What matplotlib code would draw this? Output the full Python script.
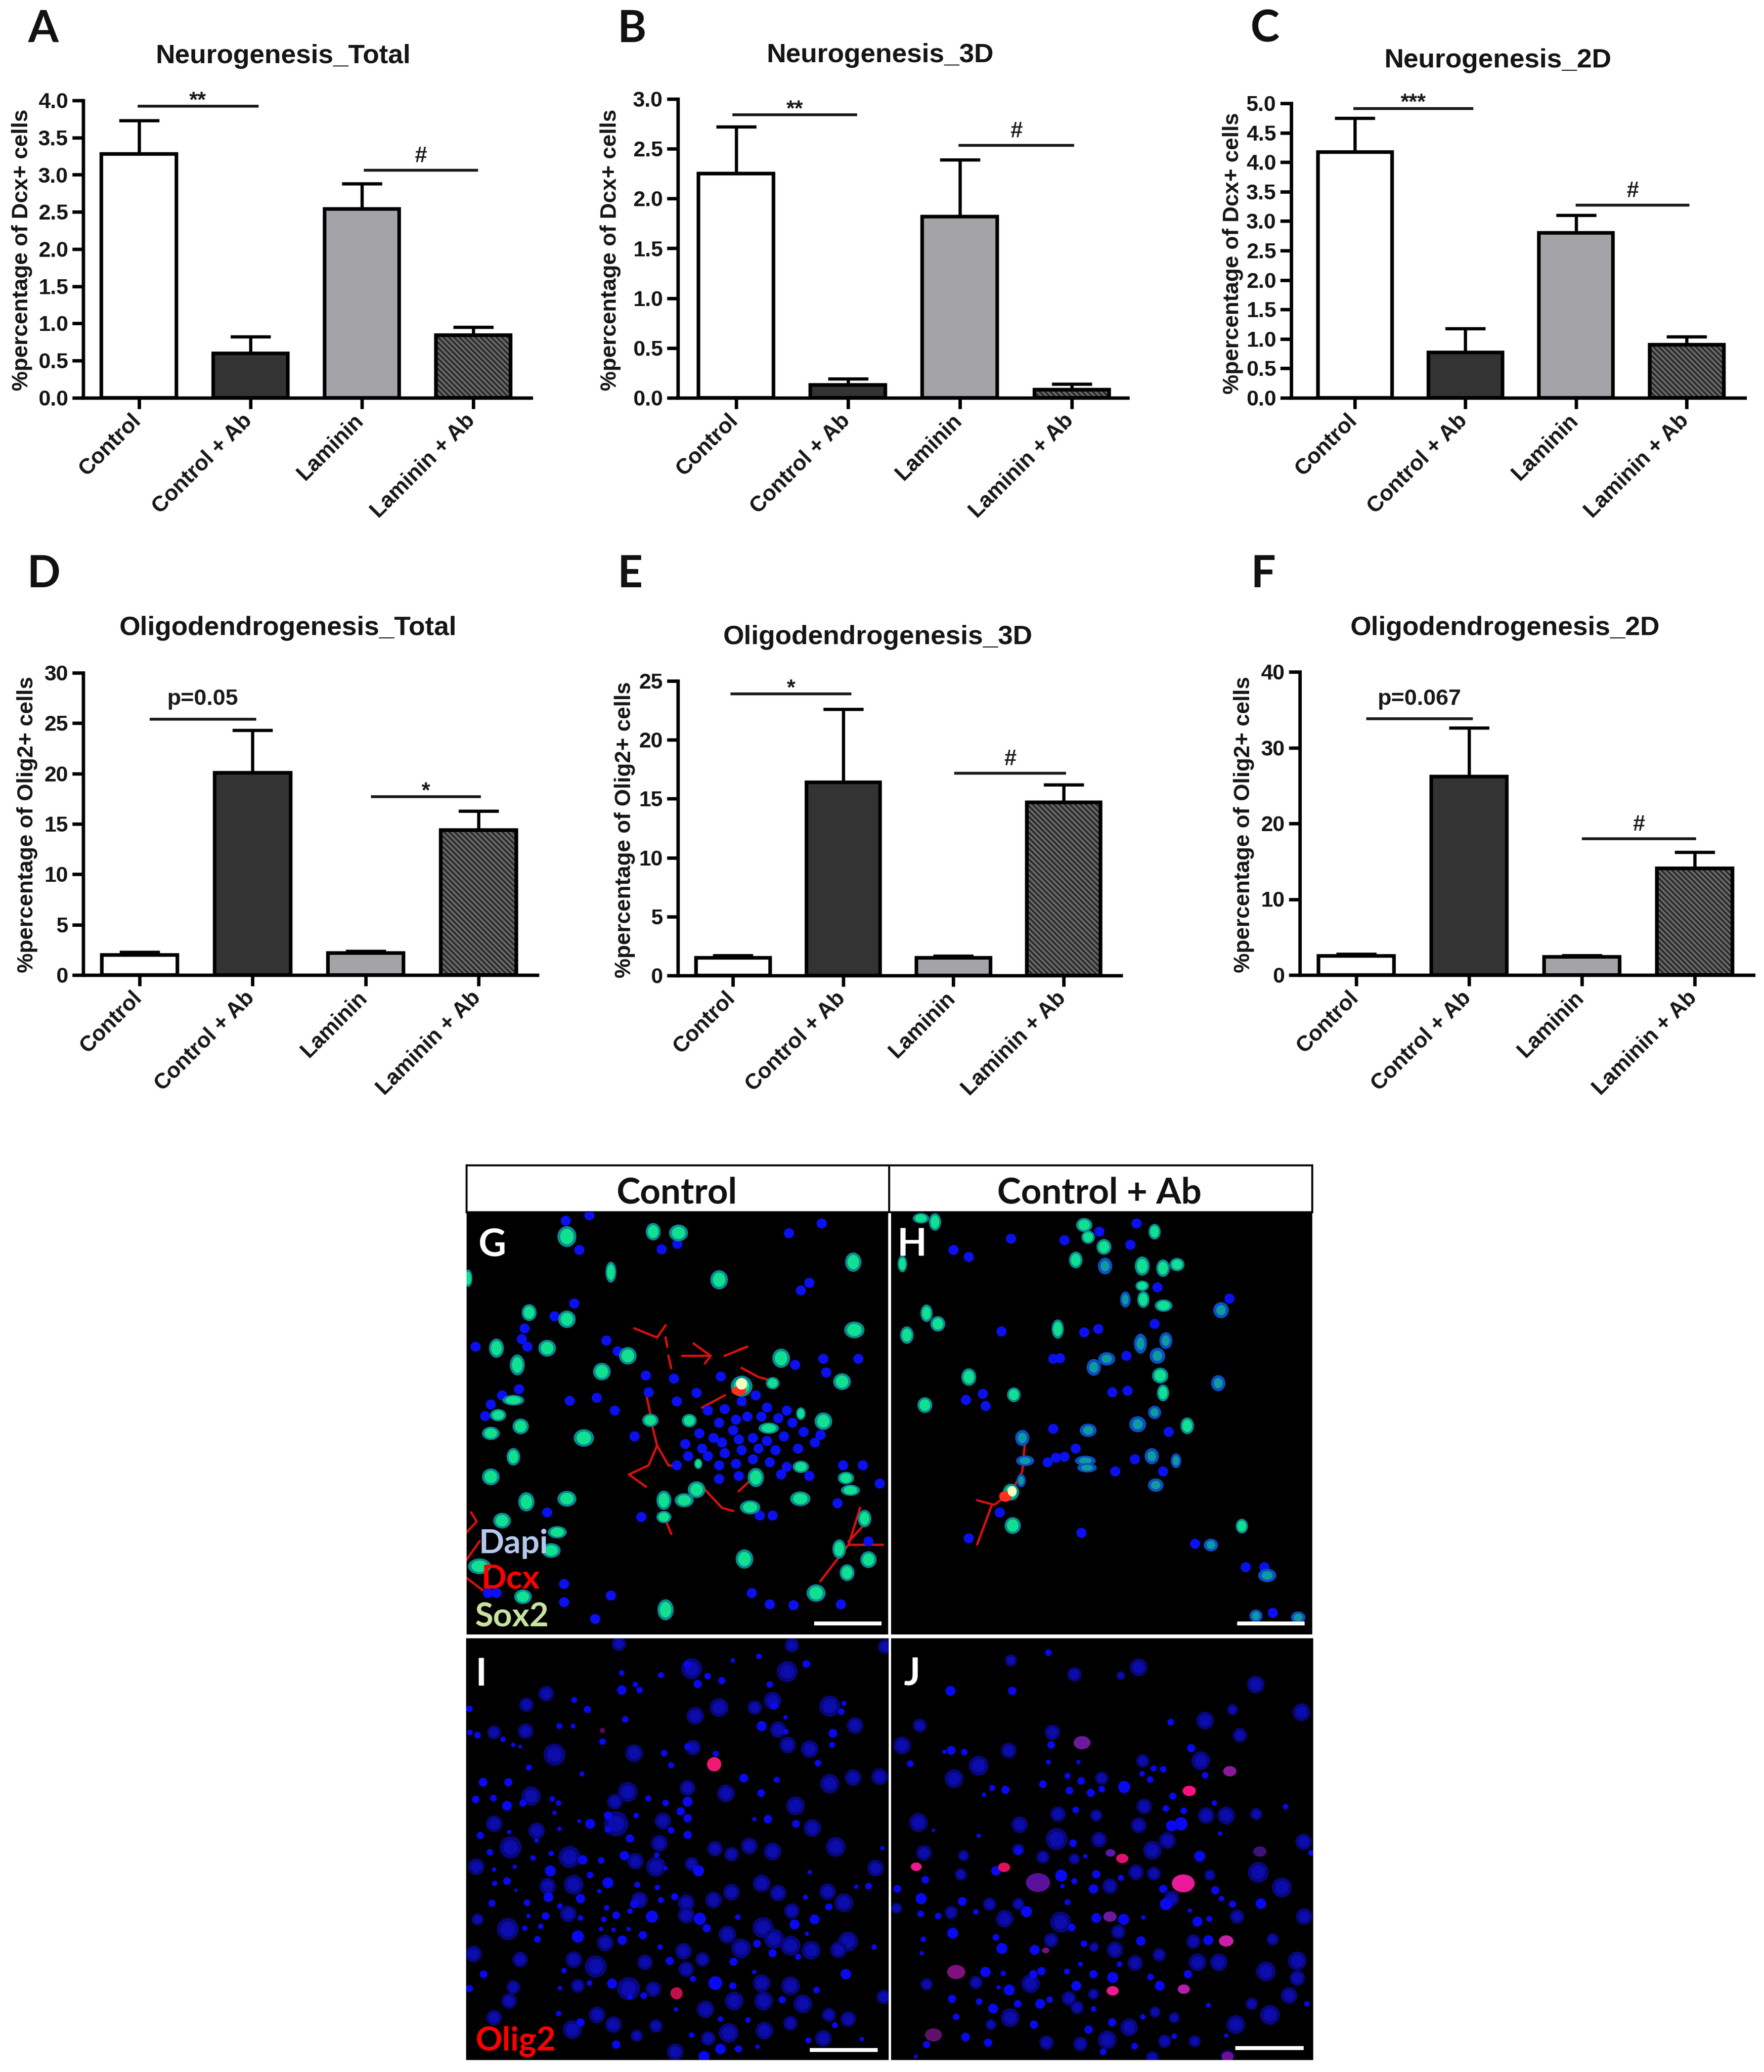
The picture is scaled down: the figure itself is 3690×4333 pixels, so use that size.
import matplotlib
matplotlib.use("Agg")
import matplotlib.pyplot as plt
from matplotlib.patches import Ellipse
from matplotlib.transforms import ScaledTranslation

W, H = 3691, 4333

# ---- bar chart data
groups = ['Control', 'Control + Ab', 'Laminin', 'Laminin + Ab']

a_vals = [3.28, 0.60, 2.54, 0.84]
a_tops = [3.73, 0.82, 2.88, 0.95]
b_vals = [2.25, 0.13, 1.82, 0.08]
b_tops = [2.72, 0.19, 2.39, 0.14]
c_vals = [4.17, 0.77, 2.80, 0.90]
c_tops = [4.75, 1.18, 3.10, 1.04]
d_vals = [2.0, 20.1, 2.2, 14.4]
d_tops = [2.3, 24.3, 2.35, 16.3]
e_vals = [1.5, 16.4, 1.5, 14.7]
e_tops = [1.7, 22.6, 1.65, 16.2]
f_vals = [2.5, 26.2, 2.4, 14.1]
f_tops = [2.8, 32.6, 2.6, 16.2]

a_ticks = ['0.0', '0.5', '1.0', '1.5', '2.0', '2.5', '3.0', '3.5', '4.0']
b_ticks = ['0.0', '0.5', '1.0', '1.5', '2.0', '2.5', '3.0']
c_ticks = ['0.0', '0.5', '1.0', '1.5', '2.0', '2.5', '3.0', '3.5', '4.0', '4.5', '5.0']
d_ticks = ['0', '5', '10', '15', '20', '25', '30']
e_ticks = ['0', '5', '10', '15', '20', '25']
f_ticks = ['0', '10', '20', '30', '40']

bar_colors = ['white', '#333333', '#a3a3a8', '#6a6a6a']

# ---- microscopy nuclei, x, y, width, height in zoomed crop coordinates
g_green = [(200,288,28,60),(353,272,22,50),(398,276,28,48),(708,372,24,55),(278,405,16,60),(470,430,26,55),(25,425,12,50),
    (133,538,22,48),(200,560,26,50),(710,595,30,48),(75,655,22,55),(165,655,26,48),(112,710,22,60),(308,680,26,50),
    (262,732,26,50),(580,688,26,55),(688,765,26,48),(510,780,32,60),(565,770,20,35),(105,826,32,30),(78,875,24,35),
    (118,912,24,45),(65,935,26,38),(230,950,30,50),(348,892,24,38),(417,893,22,38),(655,895,26,50),(615,870,14,36),
    (558,918,30,32),(105,1012,20,50),(65,1078,26,48),(433,1035,12,30),(615,1045,24,35),(535,1080,24,55),(695,1082,24,36),
    (703,1122,28,32),(430,1120,26,48),(372,1155,22,55),(408,1155,28,40),(525,1178,30,40),(614,1150,30,42),(128,1160,24,55),
    (200,1150,28,45),(372,1210,22,35),(85,1222,26,45),(183,1260,28,35),(172,1320,28,42),(45,1372,34,45),(515,1348,26,55),
    (683,1315,20,55),(735,1350,24,48),(697,1393,22,48),(642,1460,28,50),(122,1472,26,42),(375,1515,24,60),(728,1215,20,50)]
g_blue = [(198,236),(240,218),(222,332),(368,330),(396,312),(594,277),(652,245),(630,440),(615,465),(213,508),(178,550),
    (125,590),(120,625),(38,650),(130,650),(270,630),(290,665),(340,745),(390,755),(473,748),(430,802),(395,830),(345,800),
    (253,818),(205,828),(285,860),(85,810),(65,840),(55,878),(115,790),(605,710),(655,690),(717,690),(660,735),(450,860),
    (480,855),(510,830),(535,810),(555,850),(590,860),(500,890),(470,900),(520,880),(545,880),(575,885),(600,900),(495,925),
    (460,950),(435,935),(410,970),(440,985),(475,965),(505,955),(530,950),(555,960),(585,945),(620,930),(650,940),(640,965),
    (610,985),(570,990),(540,985),(510,990),(480,1000),(450,1010),(415,1010),(395,1040),(470,1040),(500,1035),(530,1020),
    (560,1030),(590,1045),(505,1075),(470,1085),(580,1070),(630,1075),(320,945),(332,1210),(165,1195),(542,1205),(565,1205),
    (680,1165),(755,1100),(725,1040),(690,1040),(195,1430),(278,1468),(528,1460),(560,1497),(602,1500),(686,1497),(195,1490),
    (250,1545),(735,1290),(60,1460),(75,1460)]
g_red = [[(320,590),(360,620),(375,580)],[(375,620),(378,650)],[(425,640),(455,680),(405,680)],[(455,680),(445,705)],
    [(505,660),(520,650),(480,680)],[(380,680),(385,720)],[(510,720),(540,750),(570,765)],[(340,800),(350,890)],
    [(350,900),(360,975),(345,1040),(310,1070),(340,1110)],[(360,975),(380,1040),(400,1045)],[(480,810),(440,850)],
    [(440,1110),(475,1180),(495,1190)],[(525,1090),(505,1125)],[(375,1220),(385,1265)],[(720,1180),(700,1300),(650,1420)],
    [(700,1300),(760,1300)],[(700,1290),(725,1240)],[(30,1195),(40,1225),(22,1260)],[(22,1350),(45,1290)],[(22,1410),(50,1450)]]

h_green = [(825,228,24,30),(850,240,18,50),(1115,250,24,40),(1122,290,20,38),(1150,322,22,45),(1240,272,18,45),(1100,365,20,48),
    (1218,385,22,55),(1255,392,20,50),(1280,380,22,38),(1218,450,20,30),(1220,495,18,48),(1256,515,26,35),
    (835,540,18,50),(855,575,22,44),(800,612,20,50),(792,378,14,48),(1068,592,18,55),
    (1250,745,24,45),(1255,802,18,48),(910,750,22,50),(990,808,20,42),(832,842,22,45),(1298,910,20,48),
    (985,1128,24,48),(988,1238,24,48),(1395,1240,18,42)]
h_teal = [(1152,385,22,50),(1188,495,16,48),(1358,530,24,48),(1215,640,20,60),(1260,630,20,50),(1245,680,24,48),(1155,690,26,40),
    (1132,718,22,50),(1353,770,22,48),(1240,866,20,40),(1210,905,26,48),(1122,925,26,40),(1005,950,22,48),(1010,1025,28,32),
    (1117,1025,32,30),(1120,1048,30,28),(1235,1010,22,48),(1278,1025,16,44),(1003,1090,14,40),(1242,1105,24,40),(1340,1302,22,38),
    (1440,1402,28,40),(1420,1535,20,38),(1495,1540,22,36)]
h_blue = [(985,295),(883,332),(910,355),(1080,300),(1142,272),(1197,315),(1208,245),(1373,492),(1245,455),(1240,575),(1115,603),
    (1140,592),(968,600),(1060,690),(1072,688),(1190,680),(1165,800),(1192,795),(1060,920),(1050,1030),(1065,1015),(1080,1012),
    (1100,985),(1170,1060),(1205,1020),(1255,1060),(1265,930),(965,1195),(910,1280),(1110,1262),(1312,1298),(1402,1375),
    (1435,1375),(1450,1525),(935,805),(905,825),(940,845)]
h_red = [[(925,1155),(955,1170),(985,1130),(1005,1060),(1010,960)],[(950,1175),(925,1300)]]

# x, y, radius
i_dim = [(830,155,38),(1178,165,38),(930,295,34),(843,325,32),(1125,270,32),(1333,290,38),(1425,360,30),(1145,375,30),(110,385,25),
    (225,380,28),(620,460,32),(330,465,40),(1180,430,30),(1260,445,32),(835,440,28),(955,605,32),(1333,570,35),(1418,548,30),
    (1515,545,30),(597,600,36),(815,585,28),(245,615,35),(550,635,28),(1208,650,34),(110,715,30),(555,715,45),(1270,730,32),
    (725,705,30),(265,740,30),(170,800,40),(712,785,30),(1355,798,36),(1125,815,32),(975,825,26),(915,805,28),(1040,795,30),
    (385,835,40),(625,850,30),(700,870,36),(1500,875,30),(830,860,25),(1085,930,32),(400,935,36),(305,940,30),(1145,965,30),
    (975,962,30),(1325,960,30),(1385,1000,34),(640,990,30),(810,1000,30),(910,990,30),(810,1045,30),(1195,1030,28),(380,1040,30),
    (160,1095,40),(1090,1090,38),(1130,1130,36),(960,1115,32),(515,1145,30),(1190,1155,36),(1010,1165,36),(1265,1172,34),
    (1400,1140,36),(1365,1170,30),(800,1175,30),(35,1185,30),(205,1205,28),(400,1205,30),(870,1205,26),(480,1230,40),(660,1215,28),
    (810,1240,28),(1085,1290,32),(600,1310,42),(690,1312,28),(180,1305,25),(415,1300,25),(1190,1300,34),(985,1355,34),(1092,1355,34),
    (1235,1365,34),(880,1385,32),(165,1355,28),(110,1415,28),(485,1405,30),(395,1458,34),(545,1440,30),(1190,1435,26),(1095,1462,32),
    (965,1470,36),(1310,1490,30),(1400,1420,28),(1330,1405,25),(890,1490,26),(770,1538,30),(630,1480,22),(700,1445,24),(1530,1340,26),
    (1535,75,26),(1195,70,26),(565,65,26),(300,245,28),(228,285,26),(50,1060,22),(45,870,30),(1060,295,26)]
i_bright = [(815,140,14),(888,182,12),(852,210,15),(940,198,13),(575,232,17),(640,232,12),(625,212,10),(718,178,11),(575,170,10),
    (1130,288,15),(1115,212,12),(980,125,8),(1075,110,10),(1248,138,14),(1085,362,18),(1345,388,16),(1342,430,11),(1173,382,10),
    (1290,496,12),(1375,310,12),(1385,280,9),(1172,330,8),(402,268,11),(450,302,13),(588,338,12),(348,362,11),(398,362,9),(20,300,12),
    (50,395,12),(22,385,10),(143,410,10),(180,430,8),(205,436,7),(505,418,12),(730,460,12),(815,436,12),(755,503,11),(918,462,11),
    (1020,550,16),(1140,556,11),(1083,604,14),(1108,698,15),(1210,715,14),(1058,698,8),(672,623,11),(735,640,12),(815,635,18),
    (790,670,15),(815,695,15),(755,738,12),(815,755,15),(628,685,10),(460,715,18),(525,685,15),(525,735,12),(605,768,15),(348,733,8),
    (420,705,7),(430,535,9),(237,512,11),(162,565,15),(70,565,16),(43,627,14),(108,622,12),(157,650,18),(215,640,13),(322,625,10),
    (345,640,10),(330,675,8),(60,757,13),(165,745,8),(265,775,9),(95,818,12),(252,838,10),(318,822,10),(433,845,17),(585,830,17),
    (703,828,10),(735,875,8),(855,885,20),(500,847,12),(315,885,20),(110,880,8),(185,870,8),(460,900,12),(525,928,20),(632,935,11),
    (705,945,10),(157,922,14),(112,930,10),(190,955,6),(230,1000,12),(308,980,18),(425,985,17),(102,1002,13),(350,1012,10),(493,958,8),
    (520,1018,10),(620,1005,15),(718,990,11),(768,978,13),(605,1030,10),(685,1050,22),(555,1045,14),(510,1060,10),(425,1055,10),
    (298,1048,14),(235,1048,8),(860,1058,22),(885,1092,15),(998,1052,10),(1278,1060,18),(1205,1078,18),(1250,1112,8),(415,1122,22),
    (268,1132,12),(222,1092,10),(280,1085,10),(500,1095,8),(545,1098,8),(600,1095,8),(652,1117,15),(577,1135,17),(715,1160,10),
    (1068,1148,14),(1125,1182,15),(1218,1195,11),(750,1210,15),(983,1213,15),(72,1258,14),(20,1310,13),(365,1245,10),(1392,1258,19),
    (1058,1250,8),(835,1275,11),(916,1290,25),(540,1292,18),(980,1300,13),(1285,1315,12),(1160,1350,13),(655,1335,12),(605,1340,10),
    (458,1290,10),(350,1308,8),(345,1400,10),(425,1432,15),(1035,1423,10),(935,1420,10),(1352,1442,11),(773,1385,8),(555,1512,15),
    (1255,1497,11),(1450,1492,8),(830,1478,10),(935,1528,19),(875,1555,20),(1000,1528,13),(1070,1520,8),(1495,1160,10),(1475,940,12),
    (1430,942,8),(1260,890,8),(1330,1015,13),(1525,803,8),(1245,980,9)]
i_pink = [(912,500,26,'#f01870'),(775,1327,22,'#c01050'),(505,378,10,'#500a50')]

j_dim = [(925,150,32),(458,125,22),(690,175,26),(860,180,16),(1353,212,32),(1520,312,32),(1168,342,32),(1295,395,26),(1268,303,20),
    (610,385,28),(60,432,32),(450,450,28),(125,360,25),(340,505,36),(250,552,34),(940,488,24),(1152,487,34),(790,550,24),(120,710,34),
    (490,718,30),(630,680,28),(945,652,28),(770,685,22),(1172,685,30),(1245,685,32),(1355,680,22),(925,720,28),(140,820,28),(285,830,20),
    (275,898,22),(485,808,22),(575,835,24),(690,842,20),(780,772,28),(625,770,40),(1030,775,30),(975,810,34),(1528,780,30),(1148,832,22),
    (915,890,28),(820,940,28),(980,895,25),(1362,890,38),(1448,945,36),(1185,900,20),(1045,985,28),(380,1005,24),(485,1005,22),(40,1020,20),
    (240,1035,24),(435,1058,32),(640,1070,38),(1285,1050,26),(1530,1050,30),(850,1105,26),(605,1135,26),(762,1160,18),(838,1170,30),
    (1000,1188,24),(1125,1140,26),(912,1218,28),(1140,1215,32),(1218,1215,32),(1415,1132,22),(1505,1210,34),(1390,1248,36),(1505,1272,28),
    (150,1295,22),(330,1288,24),(530,1292,34),(670,1345,26),(700,1378,24),(760,1330,20),(1475,1335,30),(1338,1365,22),(1405,1405,36),
    (455,1415,34),(385,1440,20),(1055,1415,20),(985,1395,20),(890,1450,32),(810,1495,34),(1280,1440,34),(1130,1500,22),(588,1505,26),
    (712,1510,26),(1020,1500,24),(975,1560,24),(1250,1555,24)]
j_bright = [(237,235,18),(463,235,15),(595,97,12),(240,450,16),(288,456,12),(215,455,8),(90,498,12),(1042,348,12),(1117,442,15),(605,430,14),
    (595,492,9),(705,492,8),(665,542,11),(575,572,14),(715,560,14),(672,595,14),(390,585,11),(438,592,15),(360,610,8),(750,603,15),(790,590,12),
    (872,582,22),(938,534,10),(980,515,11),(1015,518,12),(967,555,12),(1168,540,12),(1050,615,13),(1202,640,10),(1025,660,12),(1090,668,12),
    (1080,715,24),(1045,722,20),(1222,750,8),(1462,653,10),(695,665,12),(340,758,8),(175,738,6),(685,785,14),(730,832,8),(485,812,14),(1148,832,18),
    (642,902,22),(690,922,11),(770,897,15),(860,910,11),(760,950,17),(403,885,17),(145,917,14),(43,950,14),(130,985,20),(280,995,16),(647,940,8),
    (1015,950,15),(1025,1005,22),(665,998,11),(1268,1005,13),(1372,1003,19),(1228,985,10),(1205,955,15),(1112,1028,8),(515,1032,20),(330,1033,10),
    (128,1040,12),(192,1048,12),(770,1055,18),(870,1060,20),(942,1053,8),(1140,1068,18),(1183,1058,11),(680,1090,14),(245,1110,20),(403,1125,12),
    (138,1132,10),(425,1165,20),(545,1170,18),(725,1148,12),(933,1138,17),(1180,1135,18),(132,1182,8),(855,1222,10),(712,1222,9),(365,1250,19),
    (430,1255,10),(540,1258,15),(570,1247,15),(663,1248,11),(760,1258,15),(830,1270,20),(968,1268,12),(1105,1258,15),(413,1305,8),(452,1315,20),
    (697,1300,18),(1002,1300,18),(243,1347,15),(342,1357,12),(393,1382,18),(483,1365,14),(565,1365,18),(600,1350,12),(760,1383,10),(828,1432,15),
    (940,1412,10),(542,1440,15),(742,1458,15),(292,1485,16),(375,1505,15),(150,1512,13),(795,1538,12),(910,1518,12),(1055,1482,10),(1245,1480,8),
    (1180,1370,9),(258,1412,12),(1540,1365,10),(1555,820,10),(110,1555,7)]
j_pink = [(718,422,28,'#6a1a9a'),(1258,525,22,'#8a1a9a'),(1110,596,22,'#ff1080'),(112,870,18,'#f01890'),(433,872,20,'#e01060'),(865,840,20,'#e01070'),
    (822,820,16,'#5a1ab0'),(557,927,40,'#5a109a'),(1088,930,38,'#e81a9a'),(820,1050,22,'#6a1a9a'),(1245,1138,24,'#c820a8'),(585,1172,12,'#7a1080'),
    (258,1250,30,'#801080'),(1090,1312,20,'#b020a8'),(830,1318,20,'#f01890'),(175,1477,28,'#60106a'),(1250,1555,20,'#701090'),(1368,815,22,'#40107a')]

fig = plt.figure(figsize=(W / 100, H / 100), dpi=100, facecolor='white')
plt.rcParams['hatch.linewidth'] = 2.8
plt.rcParams['font.family'] = ['Liberation Sans', 'DejaVu Sans']


def px_axes(left, right, top, bottom, **kw):
    return fig.add_axes([left / W, 1 - bottom / H, (right - left) / W, (bottom - top) / H], **kw)


def px_text(x, y, s, **kw):
    kw.setdefault('ha', 'center')
    kw.setdefault('va', 'center')
    fig.text(x / W, 1 - y / H, s, **kw)


def bar_panel(box, xlim, vals, tops, ticks, step, title, title_xy, ylabel, ylabel_xy, sigs):
    ax = px_axes(*box)
    x = range(4)
    bars = ax.bar(x, vals, width=0.67, color=bar_colors, edgecolor='black', linewidth=5.4, zorder=3)
    bars[3].set_hatch('\\\\\\')
    bars[3].set_edgecolor('#2a2a2a')
    ax.bar([3], [vals[3]], width=0.67, fill=False, edgecolor='black', linewidth=5.4, zorder=4)
    up = [t - v for t, v in zip(tops, vals)]
    ax.errorbar(x, vals, yerr=[[0] * 4, up], fmt='none', ecolor='black', elinewidth=4.8,
                capsize=30, capthick=4.8, zorder=2)
    ax.set_xlim(*xlim)
    ax.set_ylim(0, step * (len(ticks) - 1))
    ax.set_yticks([step * i for i in range(len(ticks))])
    ax.set_yticklabels(ticks, fontsize=32.5, fontweight='bold', color='#151515')
    ax.set_xticks(list(x))
    ax.set_xticklabels(groups, fontsize=33, fontweight='bold', rotation=45, ha='right', rotation_mode='anchor', color='#151515')
    ax.tick_params(axis='both', length=16.5, width=5.2, pad=6)
    ax.tick_params(axis='x', pad=2)
    # rotated labels end a little left of their tick in the picture
    shift = ScaledTranslation(-13 / 72, 0, fig.dpi_scale_trans)
    for lab in ax.get_xticklabels():
        lab.set_transform(lab.get_transform() + shift)
    ax.spines['top'].set_visible(False)
    ax.spines['right'].set_visible(False)
    ax.spines['left'].set_linewidth(5.2)
    ax.spines['bottom'].set_linewidth(5.2)
    ax.patch.set_alpha(0)
    for x0, x1, y, lab in sigs:
        ax.plot([x0, x1], [y, y], color='#1a1a1a', lw=4.2, clip_on=False, zorder=5)
        off = -8 if '*' in lab else (14 if lab.startswith('p') else 5)
        size = 34 if lab.startswith('p') else 33
        ax.annotate(lab, ((x0 + x1) / 2, y), xytext=(0, off), textcoords='offset points', ha='center', va='bottom',
                    fontsize=size, fontweight='bold', color='#1a1a1a', annotation_clip=False)
    px_text(title_xy[0], title_xy[1], title, fontsize=40.5, fontweight='bold', color='#151515')
    px_text(ylabel_xy[0], ylabel_xy[1], ylabel, fontsize=33.5, fontweight='bold', rotation=90, color='#151515')


bar_panel((174, 1111, 210, 832), (-0.5, 3.52), a_vals, a_tops, a_ticks, 0.5, 'Neurogenesis_Total', (592, 118),
          '%percentage of Dcx+ cells', (46, 523), [(0.0, 1.06, 3.92, '**'), (2.03, 3.03, 3.06, '#')])
bar_panel((1418, 2359, 207, 832), (-0.52, 3.5), b_vals, b_tops, b_ticks, 0.5, 'Neurogenesis_3D', (1841, 116),
          '%percentage of Dcx+ cells', (1277, 523), [(-0.02, 1.07, 2.84, '**'), (2.0, 3.01, 2.535, '#')])
bar_panel((2701, 3650, 216, 832), (-0.575, 3.526), c_vals, c_tops, c_ticks, 0.5, 'Neurogenesis_2D', (3133, 127),
          '%percentage of Dcx+ cells', (2579, 530), [(0.0, 1.06, 4.91, '***'), (2.01, 3.01, 3.27, '#')])
bar_panel((174, 1124, 1407, 2039), (-0.5, 3.52), d_vals, d_tops, d_ticks, 5, 'Oligodendrogenesis_Total', (603, 1314),
          '%percentage of Olig2+ cells', (57, 1724), [(0.1, 1.02, 25.4, 'p=0.05'), (2.06, 3.01, 17.7, '*')])
bar_panel((1418, 2345, 1424, 2040), (-0.5, 3.52), e_vals, e_tops, e_ticks, 5, 'Oligodendrogenesis_3D', (1836, 1333),
          '%percentage of Olig2+ cells', (1307, 1735), [(-0.01, 1.06, 23.9, '*'), (2.02, 3.01, 17.15, '#')])
bar_panel((2719, 3668, 1405, 2039), (-0.5, 3.52), f_vals, f_tops, f_ticks, 10, 'Oligodendrogenesis_2D', (3149, 1314),
          '%percentage of Olig2+ cells', (2602, 1724), [(0.1, 1.02, 33.8, 'p=0.067'), (2.01, 3.0, 17.97, '#')])

for letter, lx, ly in [('A', 90, 62), ('B', 1322, 62), ('C', 2646, 62), ('D', 92, 1202), ('E', 1318, 1202), ('F', 2643, 1202)]:
    px_text(lx, ly, letter, fontsize=66, fontweight='bold', family='Lato', color='#111111')

# header strip above the images
hd = px_axes(976, 2745, 2437, 2535, facecolor='white')
hd.set_xticks([])
hd.set_yticks([])
for s in hd.spines.values():
    s.set_linewidth(3)
hd.axvline(0.5, color='black', lw=3)
px_text(1415, 2495, 'Control', fontsize=54, fontweight='bold', family='Lato', color='#111111')
px_text(2300, 2495, 'Control + Ab', fontsize=54, fontweight='bold', family='Lato', color='#111111')


def image_axes(box, xlim, ylim):
    ax = px_axes(*box, facecolor='black')
    ax.set_xlim(*xlim)
    ax.set_ylim(*ylim)
    ax.set_xticks([])
    ax.set_yticks([])
    for s in ax.spines.values():
        s.set_visible(False)
    return ax


def add_oval(ax, x, y, w, h, color):
    ax.add_patch(Ellipse((x, y), w, h, facecolor=color, edgecolor='none'))


def add_round(ax, cells, outer, inner=None):
    for cx, cy, r in cells:
        add_oval(ax, cx, cy, 2 * r, 2 * r, outer)
        if inner:
            add_oval(ax, cx, cy, 1.3 * r, 1.3 * r, inner)


g_ax = image_axes((976, 1858, 2535, 3418), (22, 770), (1596, 208))
h_ax = image_axes((1864, 2745, 2535, 3418), (772, 1520), (1596, 208))
for ax, red, green, blue in [(g_ax, g_red, g_green, g_blue), (h_ax, h_red, h_green, h_blue)]:
    for line in red:
        ax.plot([p[0] for p in line], [p[1] for p in line], color='#d81010', lw=3.4, zorder=1)
    for bx, by in blue:
        add_oval(ax, bx, by, 18, 33, '#0a10f0')
    for cx, cy, cw, ch in green:
        add_oval(ax, cx, cy, cw * 1.2, ch * 1.15, '#0a8a90')
        add_oval(ax, cx, cy, cw * 0.85, ch * 0.85, '#10e090')
for cx, cy, cw, ch in h_teal:
    add_oval(h_ax, cx, cy, cw * 1.15, ch * 1.1, '#0a50c0')
    add_oval(h_ax, cx, cy, cw * 0.7, ch * 0.7, '#109aa0')
# brightest double-labelled cells
add_oval(g_ax, 505, 795, 26, 30, '#ff3020')
add_oval(g_ax, 510, 772, 20, 38, '#f0ffc0')
add_oval(h_ax, 975, 1142, 22, 36, '#ff3020')
add_oval(h_ax, 987, 1125, 16, 34, '#f0ffc0')

i_ax = image_axes((975, 1859, 3426, 4308), (8, 1548), (1568, 45))
add_round(i_ax, i_dim, '#07077a', '#0c0cac')
add_round(i_ax, i_bright, '#0808f4')
for cx, cy, r, col in i_pink:
    add_oval(i_ax, cx, cy, 2 * r, 2 * r, col)

j_ax = image_axes((1864, 2747, 3426, 4308), (20, 1563), (1568, 45))
add_round(j_ax, j_dim, '#07077a', '#0c0cac')
add_round(j_ax, j_bright, '#0808f4')
for cx, cy, r, col in j_pink:
    add_oval(j_ax, cx, cy, 2.2 * r, 1.7 * r, col)

# scale bars
for x0, x1, y in [(1703, 1844, 3395), (2588, 2729, 3395), (1694, 1836, 4287), (2584, 2727, 4283)]:
    fig.add_artist(plt.Line2D([x0 / W, x1 / W], [1 - y / H, 1 - y / H], color='white', lw=6, solid_capstyle='butt'))

for letter, lx, ly in [('G', 1030, 2605), ('H', 1908, 2603), ('I', 1006, 3502), ('J', 1907, 3500)]:
    px_text(lx, ly, letter, fontsize=58, fontweight='bold', family='Lato', color='white')
px_text(1074, 3228, 'Dapi', fontsize=50, fontweight='bold', family='Lato', color='#b4c8ee')
px_text(1068, 3302, 'Dcx', fontsize=50, fontweight='bold', family='Lato', color='#ff0000')
px_text(1071, 3382, 'Sox2', fontsize=50, fontweight='bold', family='Lato', color='#c8e0a0')
px_text(1079, 4270, 'Olig2', fontsize=50, fontweight='bold', family='Lato', color='#ff0000')

fig.savefig('out.png', dpi=100, facecolor='white')
